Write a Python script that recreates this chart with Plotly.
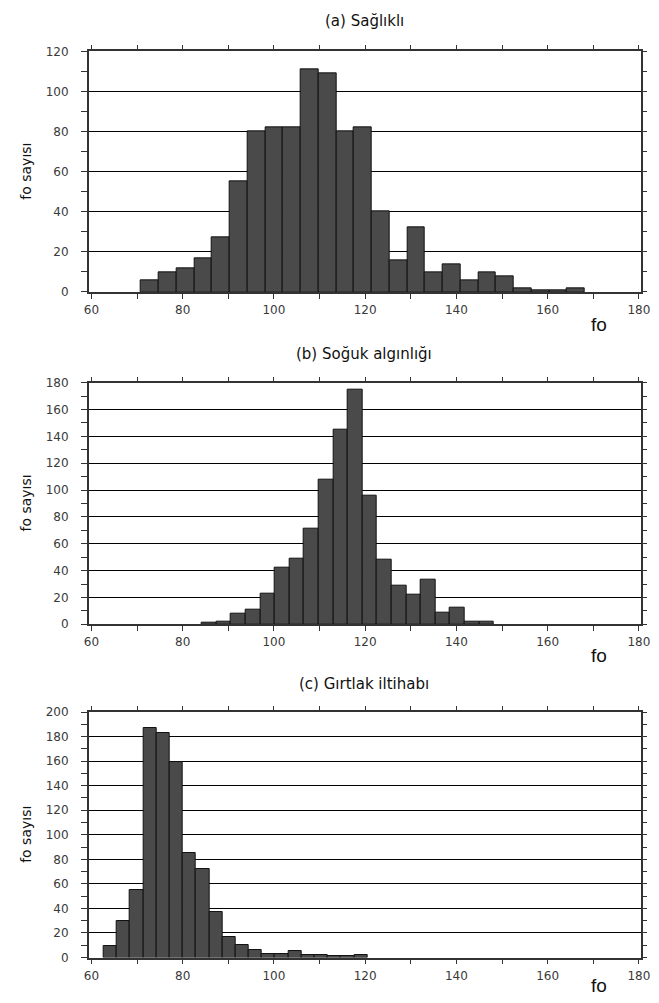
import plotly.graph_objects as go

# ---- data ----
titles = ["(a) Sağlıklı", "(b) Soğuk algınlığı", "(c) Gırtlak iltihabı"]

a_start, a_width = 70.9, 3.89
a_counts = [6, 10, 12, 17, 27, 55, 80, 82, 82, 111, 109, 80, 82, 40, 16, 32, 10, 14, 6, 10, 8, 2, 1, 1, 2]

b_start, b_width = 84.2, 3.2
b_counts = [1, 2, 8, 11, 23, 42, 49, 71, 108, 145, 175, 96, 48, 29, 22, 33, 9, 12, 2, 2]

c_start, c_width = 62.7, 2.89
c_counts = [9, 30, 55, 187, 183, 159, 85, 72, 37, 17, 10, 6, 3, 3, 5, 2, 2, 1, 1, 2]

y_max = [120, 180, 200]
x_range = [59.4, 180.5]
x_minor_ticks = list(range(60, 181, 10))

W, H = 659, 1003
# panel boxes in pixels (top, bottom)
boxes = [(45, 289), (381, 626), (715, 964)]
title_y = [14, 352, 687]
fo_y = [322, 658, 992]
x_left, x_right = 85.5, 650

fig = go.Figure()
series = [(a_start, a_width, a_counts), (b_start, b_width, b_counts), (c_start, c_width, c_counts)]
font_fam = "DejaVu Sans, Verdana, sans-serif"
lab_fam = "Liberation Sans, Arial, sans-serif"
axis_col = "#333333"
tick_font = dict(family=font_fam, size=12, color="#3a3a3a")

for i, (s, w, counts) in enumerate(series):
    n = i + 1
    xa = "x" if i == 0 else f"x{n}"
    ya = "y" if i == 0 else f"y{n}"
    fig.add_trace(go.Bar(
        x0=s + w / 2, dx=w, y=counts, width=w,
        marker=dict(color="#4a4a4a", line=dict(color="#111111", width=1)),
        xaxis=xa, yaxis=ya, showlegend=False, hoverinfo="y",
    ))
    top, bot = boxes[i]
    dom_y = [1 - bot / H, 1 - top / H]
    dom_x = [x_left / W, x_right / W]
    xkey = "xaxis" if i == 0 else f"xaxis{n}"
    ykey = "yaxis" if i == 0 else f"yaxis{n}"
    # overlay axes for top/right ticks
    xt_id, yr_id = 3 + n, 6 + n  # xaxis4..6, yaxis7..9
    xt_key, yr_key = f"xaxis{xt_id}", f"yaxis{yr_id}"
    xt, yr = f"x{xt_id}", f"y{yr_id}"
    fig.update_layout(**{
        xkey: dict(
            domain=dom_x, anchor=ya, range=x_range,
            showline=True, linecolor=axis_col, linewidth=1.5, mirror=True,
            ticks="outside", ticklen=5, tickcolor=axis_col, tickwidth=1.2,
            tickmode="linear", tick0=60, dtick=20,
            minor=dict(dtick=10, ticks="outside", ticklen=5, tickcolor=axis_col, tickwidth=1.2, showgrid=False),
            showgrid=False, zeroline=False, tickfont=tick_font, ticklabelstandoff=1,
            ticklabeloverflow="allow",
        ),
        ykey: dict(
            domain=dom_y, anchor=xa, range=[0, y_max[i]],
            showline=True, linecolor=axis_col, linewidth=1.5, mirror=True,
            ticks="outside", ticklen=6, tickcolor=axis_col, tickwidth=1.2,
            tickmode="linear", tick0=0, dtick=20,
            minor=dict(dtick=10, ticks="outside", ticklen=6, tickcolor=axis_col, tickwidth=1.2, showgrid=False),
            showgrid=True, gridcolor="#000000", gridwidth=1.3, zeroline=False,
            tickfont=tick_font, ticklabelstandoff=10, ticklabeloverflow="allow",
        ),
        xt_key: dict(
            overlaying=xa, anchor=ya, side="top", range=x_range,
            tickmode="array", tickvals=x_minor_ticks, ticks="outside", ticklen=5,
            tickcolor=axis_col, tickwidth=1.2, showticklabels=False,
            showline=False, showgrid=False, zeroline=False,
        ),
        yr_key: dict(
            overlaying=ya, anchor=xa, side="right", range=[0, y_max[i]],
            tickmode="array", tickvals=list(range(0, y_max[i] + 1, 10)), ticks="outside", ticklen=5,
            tickcolor=axis_col, tickwidth=1.2, showticklabels=False,
            showline=False, showgrid=False, zeroline=False,
        ),
    })
    # invisible helper traces so the overlay axes are drawn
    fig.add_trace(go.Scatter(x=[x_range[0]], y=[0], xaxis=xt, yaxis=ya, mode="markers",
                             marker=dict(opacity=0), showlegend=False, hoverinfo="skip"))
    fig.add_trace(go.Scatter(x=[x_range[0]], y=[0], xaxis=xa, yaxis=yr, mode="markers",
                             marker=dict(opacity=0), showlegend=False, hoverinfo="skip"))
    # panel title
    fig.add_annotation(text=titles[i], xref="paper", yref="paper",
                       x=367 / W, y=1 - title_y[i] / H, xanchor="center", yanchor="middle",
                       showarrow=False, font=dict(family=font_fam, size=15, color="#111111"))
    # y title
    fig.add_annotation(text="fo sayısı", xref="paper", yref="paper",
                       x=21.5 / W, y=1 - ((top + bot) / 2) / H, xanchor="center", yanchor="middle",
                       showarrow=False, textangle=-90,
                       font=dict(family=font_fam, size=14, color="#111111"))
    # x label
    fig.add_annotation(text="fo", xref="paper", yref="paper",
                       x=607 / W, y=1 - fo_y[i] / H, xanchor="center", yanchor="middle",
                       showarrow=False, font=dict(family=lab_fam, size=19, color="#111111"))

fig.update_layout(width=W, height=H, margin=dict(l=0, r=0, t=0, b=0),
                  paper_bgcolor="white", plot_bgcolor="white", bargap=0)
fig.write_html("out.html")
